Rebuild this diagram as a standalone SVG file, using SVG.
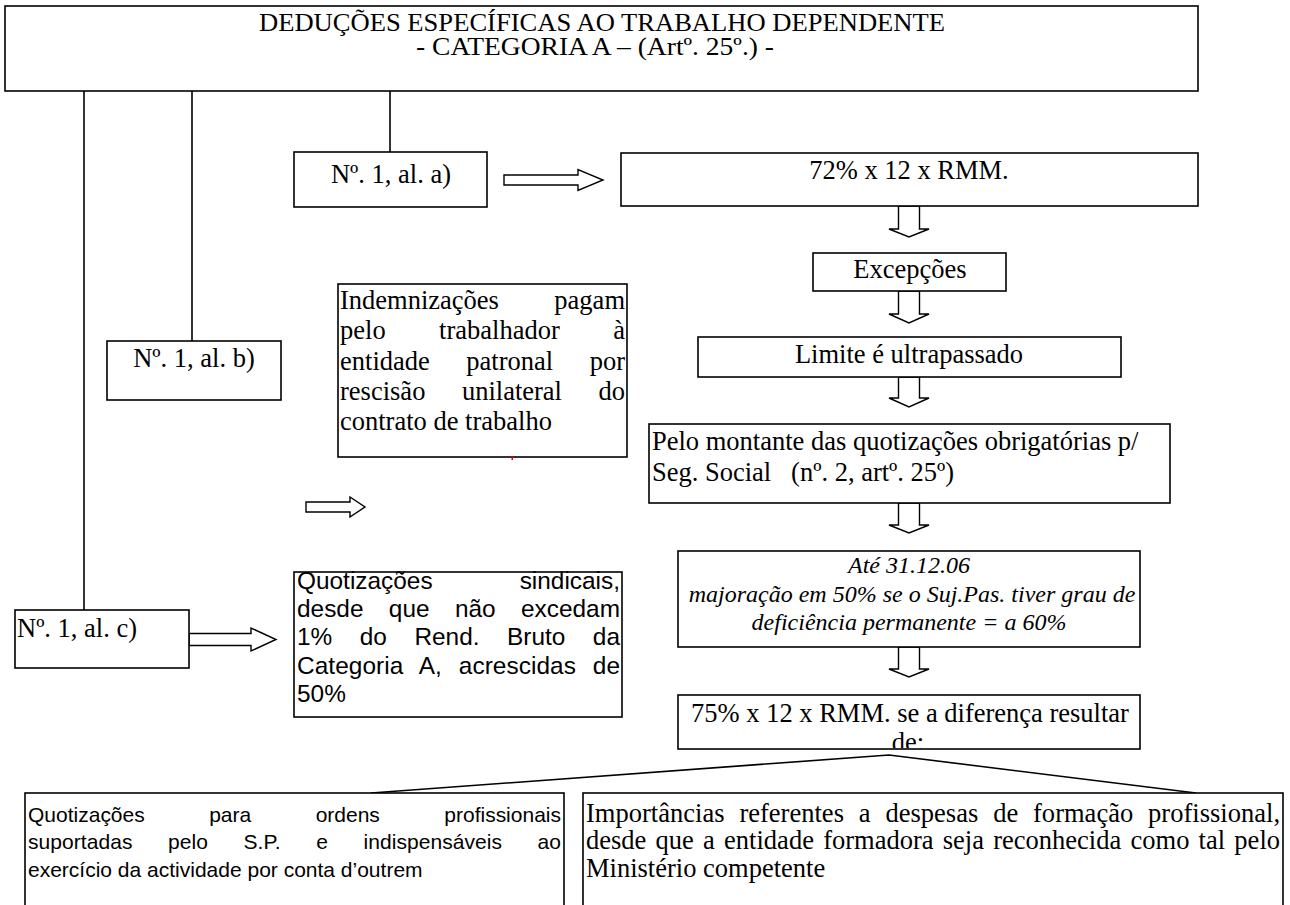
<svg xmlns="http://www.w3.org/2000/svg" width="1290" height="905" viewBox="0 0 1290 905">
<defs>
<style>
.box{fill:#fff;stroke:#000;stroke-width:1.6}
.ln{fill:none;stroke:#000;stroke-width:1.6}
.arw{fill:#fff;stroke:#000;stroke-width:1.4;stroke-linejoin:miter}
.tr{font-family:"Liberation Serif","Times New Roman",serif;font-size:26.5px;fill:#000}
.sm{font-size:24px}
.it{font-style:italic}
.ar{font-family:"Liberation Sans",Arial,sans-serif;fill:#000}
.mid{text-anchor:middle}
</style>
<clipPath id="clip75"><rect x="679" y="696" width="460" height="52"/></clipPath>
</defs>
<rect width="1290" height="905" fill="#fff"/>

<g id="connectors">
<line class="ln" x1="84" y1="91" x2="84" y2="610"/>
<line class="ln" x1="192" y1="91" x2="192" y2="341"/>
<line class="ln" x1="390" y1="91" x2="390" y2="152"/>
<polygon class="arw" points="504,175 578,175 578,169.5 603,180 578,190.5 578,185 504,185"/>
<polygon class="arw" points="306,502 350,502 350,497 365,507 350,517 350,512 306,512"/>
<polygon class="arw" points="189,633.5 251,633.5 251,628 276,639.5 251,651 251,645.5 189,645.5"/>
<polygon class="arw" points="898.5,206 919.5,206 919.5,229 929,229 909,237 889,229 898.5,229"/>
<polygon class="arw" points="898.5,291 919.5,291 919.5,314 929,314 909,323 889,314 898.5,314"/>
<polygon class="arw" points="898.5,377 919.5,377 919.5,398 929,398 909,407 889,398 898.5,398"/>
<polygon class="arw" points="898.5,503 919.5,503 919.5,525 929,525 909,533 889,525 898.5,525"/>
<polygon class="arw" points="898.5,647 919.5,647 919.5,669 929,669 909,677 889,669 898.5,669"/>
<polyline class="ln" points="371,793 889,755 1196,793"/>
</g>

<g id="title">
<rect class="box" x="5" y="6" width="1193" height="85"/>
<text class="tr" style="font-size:25.5px" x="259" y="31" textLength="686" lengthAdjust="spacingAndGlyphs">DEDUÇÕES ESPECÍFICAS AO TRABALHO DEPENDENTE</text>
<text class="tr" style="font-size:25.5px" x="416" y="55" textLength="358" lengthAdjust="spacingAndGlyphs">- CATEGORIA A – (Artº. 25º.) -</text>
</g>

<g id="n1a">
<rect class="box" x="294" y="152" width="193" height="55"/>
<text class="tr mid" x="391" y="183">Nº. 1, al. a)</text>
</g>

<g id="n1b">
<rect class="box" x="107" y="341" width="174" height="59"/>
<text class="tr mid" x="194" y="367">Nº. 1, al. b)</text>
</g>

<g id="n1c">
<rect class="box" x="15" y="610" width="174" height="58"/>
<text class="tr" x="17" y="637">Nº. 1, al. c)</text>
</g>

<g id="rmm72">
<rect class="box" x="621" y="153" width="577" height="53"/>
<text class="tr mid" x="909" y="179">72% x 12 x RMM.</text>
</g>

<g id="excepcoes">
<rect class="box" x="813" y="253" width="193" height="38"/>
<text class="tr mid" x="910" y="278">Excepções</text>
</g>

<g id="limite">
<rect class="box" x="698" y="337" width="423" height="40"/>
<text class="tr mid" x="909" y="363">Limite é ultrapassado</text>
</g>

<g id="indemnizacoes">
<rect class="box" x="338" y="284" width="289" height="173"/>
<text class="tr" x="340" y="309" word-spacing="48.8" textLength="285">Indemnizações pagam</text>
<text class="tr" x="340" y="339" word-spacing="46.8" textLength="285">pelo trabalhador à</text>
<text class="tr" x="340" y="370" word-spacing="29.9" textLength="285">entidade patronal por</text>
<text class="tr" x="340" y="400" word-spacing="29.9" textLength="285">rescisão unilateral do</text>
<text class="tr" x="340" y="430">contrato de trabalho</text>
<rect x="511.5" y="456" width="1.5" height="4" fill="#e00000"/>
</g>

<g id="pelo">
<rect class="box" x="649" y="424" width="521" height="79"/>
<text class="tr" x="652" y="450">Pelo montante das quotizações obrigatórias p/</text>
<text class="tr" x="652" y="481" xml:space="preserve">Seg. Social   (nº. 2, artº. 25º)</text>
</g>

<g id="ate">
<rect class="box" x="678" y="551" width="462" height="96"/>
<text class="tr sm it mid" x="909" y="573">Até 31.12.06</text>
<text class="tr sm it mid" x="912" y="602">majoração em 50% se o Suj.Pas. tiver grau de</text>
<text class="tr sm it mid" x="909" y="630">deficiência permanente = a 60%</text>
</g>

<g id="rmm75">
<rect class="box" x="678" y="695" width="462" height="54"/>
<g clip-path="url(#clip75)">
<text class="tr mid" x="910" y="722">75% x 12 x RMM. se a diferença resultar</text>
<text class="tr mid" x="908" y="751">de:</text>
</g>
</g>

<g id="sindicais">
<rect class="box" x="294" y="572" width="328" height="145"/>
<text class="ar" font-size="24.4" x="297" y="589" word-spacing="80.3" textLength="323">Quotizações sindicais,</text>
<text class="ar" font-size="24.4" x="297" y="617" word-spacing="18.6" textLength="323">desde que não excedam</text>
<text class="ar" font-size="24.4" x="297" y="645" word-spacing="20.7" textLength="323">1% do Rend. Bruto da</text>
<text class="ar" font-size="24.4" x="297" y="674" word-spacing="10" textLength="323">Categoria A, acrescidas de</text>
<text class="ar" font-size="24.4" x="297" y="702">50%</text>
</g>

<g id="ordens">
<rect class="box" x="25" y="793" width="539" height="130"/>
<text class="ar" font-size="21" x="28" y="822" word-spacing="58.6" textLength="533">Quotizações para ordens profissionais</text>
<text class="ar" font-size="21" x="28" y="849" word-spacing="29.6" textLength="533">suportadas pelo S.P. e indispensáveis ao</text>
<text class="ar" font-size="21" x="28" y="877">exercício da actividade por conta d’outrem</text>
</g>

<g id="formacao">
<rect class="box" x="583" y="793" width="700" height="130"/>
<text class="tr" x="586" y="822" word-spacing="8.2" textLength="694">Importâncias referentes a despesas de formação profissional,</text>
<text class="tr" x="586" y="849" word-spacing="2.6" textLength="694">desde que a entidade formadora seja reconhecida como tal pelo</text>
<text class="tr" x="586" y="877">Ministério competente</text>
</g>
</svg>
